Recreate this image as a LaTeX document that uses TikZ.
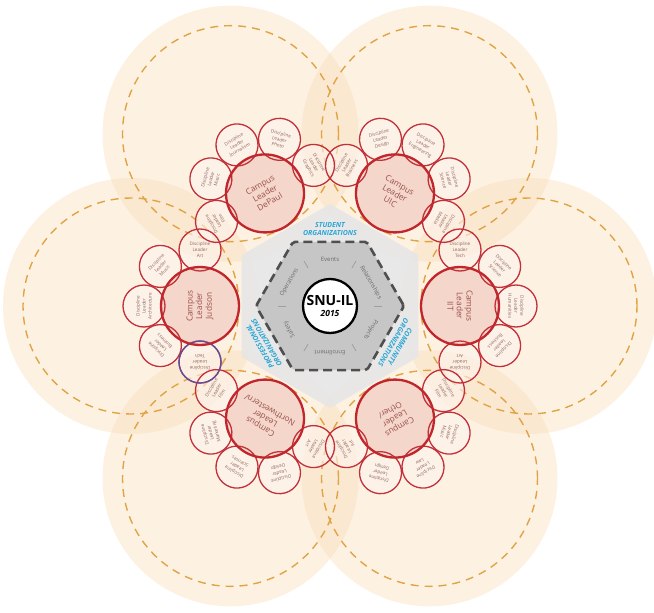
\documentclass[tikz,border=0pt]{standalone}
\usepackage{fontspec}
\setmainfont{Open Sans}
\usetikzlibrary{calc}
\definecolor{peachc}{HTML}{F9D9B0}
\definecolor{dashc}{HTML}{E0A445}
\definecolor{haloc}{HTML}{E6E6E6}
\definecolor{hexfill}{HTML}{C6C6C6}
\definecolor{hexline}{HTML}{4F4F4F}
\definecolor{leaderc}{HTML}{C0262C}
\definecolor{leaderfill}{HTML}{F3D2C6}
\definecolor{satc}{HTML}{C2303A}
\definecolor{satfill}{HTML}{FDF3EC}
\definecolor{leadertext}{HTML}{9A514B}
\definecolor{sattext}{HTML}{8E6560}
\definecolor{orgc}{HTML}{2BA6D6}
\definecolor{purplec}{HTML}{5A4FA0}
\definecolor{innertext}{HTML}{6A6A6A}
\def\slsh{/}
\def\leaderlist{120/dep/DePaul,60/uic/UIC,0/iit/IIT,300/oth/Other\slsh,240/nw/Northwestern\slsh,180/jud/Judson}
\def\satlist{120/dep/Graphics/Photo/Journalism/Music/Film,
 60/uic/Media/Science/Engineering/Design/Business,
 0/iit/Art/Business/Humanities/Science/Tech,
 300/oth/Art/Design/Law/Music/Film,
 240/nw/Film/Marketing/Sciences/Design/Art,
 180/jud/Art/Music/Architecture/Business/Tech}
\begin{document}
\begin{tikzpicture}[x=1pt,y=1pt,
  peach/.style={fill=peachc, fill opacity=0.36},
  ringdash/.style={draw=dashc, line width=1.4pt, dash pattern=on 8pt off 6pt},
  leader/.style={circle, minimum size=78pt, inner sep=0pt, draw=leaderc, line width=2.3pt,
     text=leadertext, font=\fontsize{8.3}{9.6}\selectfont, align=center},
  sat/.style={circle, minimum size=42pt, inner sep=0pt, draw=satc, line width=1.3pt,
     text=sattext, font=\fontsize{4.6}{6}\selectfont, align=center},
  innerlbl/.style={text=innertext, font=\fontsize{6}{7}\selectfont, inner sep=0pt},
  orglabel/.style={text=orgc, font=\fontsize{7}{7.8}\selectfont\bfseries\itshape, align=center, inner sep=0pt},
  tick/.style={draw=gray!75, line width=0.8pt}
]
\useasboundingbox (0,0) rectangle (654,-613);
\clip (0,0) rectangle (654,-613);
\coordinate (C) at (330,-306);
% large peach circles
\foreach \a in {0,60,...,300}{
  \fill[peach] ($(C)+(\a:199)$) circle (128pt);
}
\foreach \a in {0,60,...,300}{
  \draw[ringdash] ($(C)+(\a:199)$) circle (108pt);
}
% centre halo
\fill[haloc, fill opacity=0.9] ($(C)+(90:102)$) -- ($(C)+(150:102)$) -- ($(C)+(210:102)$)
   -- ($(C)+(270:102)$) -- ($(C)+(330:102)$) -- ($(C)+(30:102)$) -- cycle;
% dashed hexagon
\draw[hexline, fill=hexfill, line width=2.6pt, dash pattern=on 9pt off 5pt, rounded corners=2pt]
   ($(C)+(0:74)$) -- ($(C)+(60:74)$) -- ($(C)+(120:74)$) -- ($(C)+(180:74)$)
   -- ($(C)+(240:74)$) -- ($(C)+(300:74)$) -- cycle;
\foreach \a in {0,60,...,300}{
  \draw[tick] ($(C)+(\a:44)$) -- ($(C)+(\a:52)$);
}
\foreach \a/\t in {90/Events,30/Relationships,-30/Projects,-90/Enrollment,210/Safety,150/Operations}{
  \node[innerlbl, rotate=\a-90] at ($(C)+(\a:47)$) {\t};
}
\node[circle, draw=black, line width=2.3pt, fill=white, minimum size=54pt, inner sep=0pt, align=center] (snu) at (C)
  {{\fontsize{14}{14}\selectfont\bfseries SNU-IL}\\[-1pt]{\fontsize{8.5}{9}\selectfont\bfseries\itshape 2015}};
\node[orglabel] (stud) at ($(C)+(90:77)$) {STUDENT\\ORGANIZATIONS};
\node[orglabel, rotate=120] (prof) at ($(C)+(210:77)$) {PROFESSIONAL\\ORGANIZATIONS};
\node[orglabel, rotate=-120] (comm) at ($(C)+(330:77)$) {COMMUNITY\\ORGANIZATIONS};
% leader positions
\foreach \A/\n/\t in \leaderlist{
  \coordinate (L\n) at ($(C)+(\A:130)$);
}
% fills
\foreach \A/\n/\la/\lb/\lc/\ld/\le in \satlist{
  \foreach \k in {-90,-45,0,45,90}{
    \fill[satfill, fill opacity=0.6] ($(L\n)+(\A+\k:56)$) circle (21pt);
  }
}
\foreach \A/\n/\t in \leaderlist{
  \fill[leaderfill, fill opacity=0.85] (L\n) circle (39pt);
}
% satellite strokes and text
\foreach \A/\n/\la/\lb/\lc/\ld/\le in \satlist{
  \foreach \k/\t [count=\i] in {-90/\la,-45/\lb,0/\lc,45/\ld,90/\le}{
    \node[sat, rotate=\A+\k-90] (S\n\i) at ($(L\n)+(\A+\k:56)$) {Discipline\\Leader\\\t};
  }
}
\draw[purplec, line width=1.3pt] (Sjud5.center) circle (21pt);
% leaders
\foreach \A/\n/\t in \leaderlist{
  \node[leader, rotate=\A-90] (N\n) at (L\n) {Campus\\Leader\\\t};
}
\end{tikzpicture}
\end{document}
